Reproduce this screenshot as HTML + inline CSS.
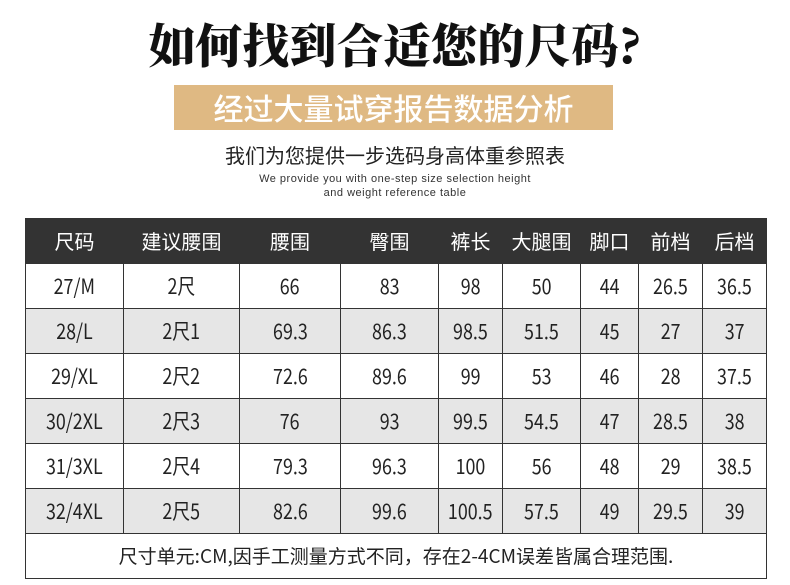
<!DOCTYPE html><html><head><meta charset="utf-8"><style>
body{margin:0;width:790px;height:585px;background:#fff;overflow:hidden;font-family:"Noto Sans CJK SC","Liberation Sans",sans-serif;position:relative}
.t{position:absolute;left:0;width:790px;text-align:center}
table{position:absolute;left:25px;top:218px;border-collapse:collapse;table-layout:fixed;width:741px}
td{border:1px solid #333;text-align:center;font-size:21px;color:#222;height:44px;padding:0;white-space:nowrap;line-height:44px}
td span{display:inline-block;transform:scaleX(0.85)}
tr.h td{background:#333;color:#fff;height:44px;font-size:20px}
tr.g td{background:#e6e6e6}
</style></head><body>
<div class="t" style="top:14px;font-family:'Noto Serif CJK SC',serif;font-weight:900;font-size:47px;line-height:60px;color:#111">如何找到合适您的尺码?</div>
<div style="position:absolute;left:174px;top:85px;width:439px;height:45px;background:#dfb983;color:#fff;font-size:30px;line-height:45px;text-align:center;font-weight:500">经过大量试穿报告数据分析</div>
<div class="t" style="top:141px;font-size:20px;line-height:28px;color:#222">我们为您提供一步选码身高体重参照表</div>
<div class="t" style="top:172px;font-size:11px;line-height:14px;color:#333;letter-spacing:0.5px;font-family:'Liberation Sans',sans-serif">We provide you with one-step size selection height<br>and weight reference table</div>
<table>
<colgroup><col style="width:98px"><col style="width:116px"><col style="width:101px"><col style="width:98px"><col style="width:64px"><col style="width:78px"><col style="width:58px"><col style="width:64px"><col style="width:64px"></colgroup>
<tr class="h"><td>尺码</td><td>建议腰围</td><td>腰围</td><td>臀围</td><td>裤长</td><td>大腿围</td><td>脚口</td><td>前档</td><td>后档</td></tr>
<tr><td><span>27/M</span></td><td><span>2尺</span></td><td><span>66</span></td><td><span>83</span></td><td><span>98</span></td><td><span>50</span></td><td><span>44</span></td><td><span>26.5</span></td><td><span>36.5</span></td></tr>
<tr class="g"><td><span>28/L</span></td><td><span>2尺1</span></td><td><span>69.3</span></td><td><span>86.3</span></td><td><span>98.5</span></td><td><span>51.5</span></td><td><span>45</span></td><td><span>27</span></td><td><span>37</span></td></tr>
<tr><td><span>29/XL</span></td><td><span>2尺2</span></td><td><span>72.6</span></td><td><span>89.6</span></td><td><span>99</span></td><td><span>53</span></td><td><span>46</span></td><td><span>28</span></td><td><span>37.5</span></td></tr>
<tr class="g"><td><span>30/2XL</span></td><td><span>2尺3</span></td><td><span>76</span></td><td><span>93</span></td><td><span>99.5</span></td><td><span>54.5</span></td><td><span>47</span></td><td><span>28.5</span></td><td><span>38</span></td></tr>
<tr><td><span>31/3XL</span></td><td><span>2尺4</span></td><td><span>79.3</span></td><td><span>96.3</span></td><td><span>100</span></td><td><span>56</span></td><td><span>48</span></td><td><span>29</span></td><td><span>38.5</span></td></tr>
<tr class="g"><td><span>32/4XL</span></td><td><span>2尺5</span></td><td><span>82.6</span></td><td><span>99.6</span></td><td><span>100.5</span></td><td><span>57.5</span></td><td><span>49</span></td><td><span>29.5</span></td><td><span>39</span></td></tr>
<tr><td colspan="9" style="font-size:19px">尺寸单元:CM,因手工测量方式不同，存在2-4CM误差皆属合理范围.</td></tr>
</table>
</body></html>
